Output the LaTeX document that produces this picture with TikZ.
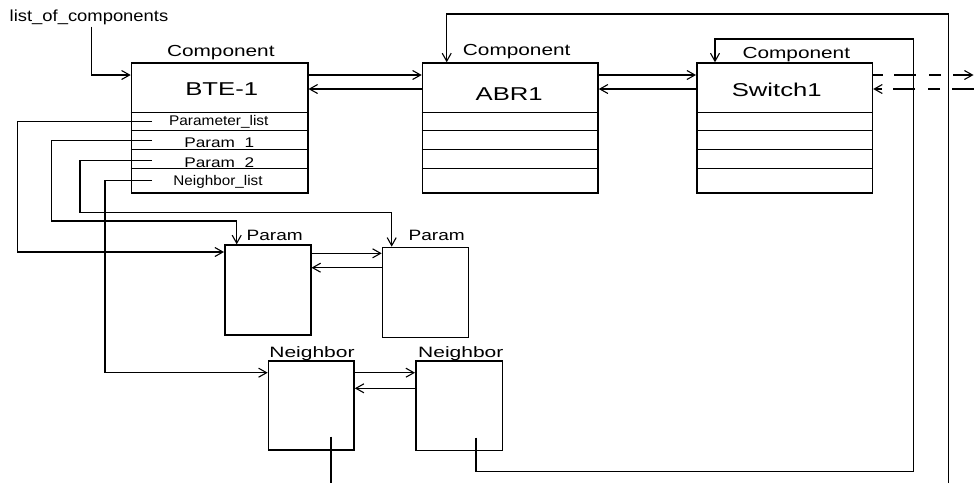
\documentclass[tikz,border=0pt]{standalone}
\usepackage{fontspec}
\setmainfont{Liberation Sans}
\usetikzlibrary{arrows.meta}
\newcommand\stxt[3]{\fontsize{#1}{#1}\selectfont\scalebox{#2}[1]{#3}}
\tikzset{
  box/.style={draw, line width=1.5pt, inner sep=0pt, anchor=north west},
  rowline/.style={line width=1.3pt},
  conn/.style={line width=1.25pt},
  arr/.style={conn, -{Straight Barb[length=8pt,width=9pt,line width=1.1pt]}},
  dashout/.style={arr, dash pattern=on 10pt off 11pt on 22pt off 13pt on 12pt off 12pt on 40pt},
  dashin/.style={arr, dash pattern=on 22pt off 12pt on 12pt off 13pt on 22pt off 11pt on 30pt},
  lbl/.style={anchor=base, inner sep=0pt}
}
\begin{document}
\begin{tikzpicture}[x=1pt,y=-1pt]
\useasboundingbox (0,0) rectangle (974,483);
% boxes
\node[box, minimum width=176.3pt, minimum height=129.7pt] (bte) at (130.7,62.3) {};
\node[box, minimum width=175.6pt, minimum height=129.7pt] (abr) at (421.7,62.3) {};
\node[box, minimum width=175.7pt, minimum height=129.7pt] (sw) at (696,62.3) {};
\node[box, minimum width=86pt, minimum height=90pt] (p1) at (224,244.3) {};
\node[box, minimum width=86pt, minimum height=90pt] (p2) at (381.7,246.7) {};
\node[box, minimum width=85.6pt, minimum height=89.3pt] (n1) at (267.7,360) {};
\node[box, minimum width=86.5pt, minimum height=89.5pt] (n2) at (415,360) {};
% row lines
\foreach \b in {bte,abr,sw}{
  \foreach \yy in {112.7,130.7,149.3,168.3}{
    \draw[rowline] (\b.west |- 0,\yy) -- (\b.east |- 0,\yy);
  }
}
% texts
\node[lbl] (tlist) at (89,21) {\stxt{16}{1.15}{list\_of\_components}};
\node[lbl] (cbte) at (220.8,56.3) {\stxt{16}{1.3}{Component}};
\node[lbl] (cabr) at (516.7,55.7) {\stxt{16}{1.3}{Component}};
\node[lbl] (csw) at (796.3,58.3) {\stxt{16}{1.3}{Component}};
\node[lbl] (tbte) at (221.7,95) {\stxt{18.6}{1.38}{BTE-1}};
\node[lbl] (tabr) at (509.2,100) {\stxt{18.6}{1.38}{ABR1}};
\node[lbl] (tsw) at (776.7,96) {\stxt{18.6}{1.38}{Switch1}};
\node[lbl] (r1) at (218.8,125) {\stxt{14}{1.1}{Parameter\_list}};
\node[lbl] (r2) at (219.2,147.7) {\stxt{14}{1.23}{Param\ \ 1}};
\node[lbl] (r3) at (219.2,167.3) {\stxt{14}{1.23}{Param\ \ 2}};
\node[lbl] (r4) at (218,185) {\stxt{14}{1.09}{Neighbor\_list}};
\node[lbl] (lp1) at (274.7,240.7) {\stxt{15}{1.27}{Param}};
\node[lbl] (lp2) at (436.7,240.7) {\stxt{15}{1.27}{Param}};
\node[lbl] (ln1) at (312,357.3) {\stxt{15}{1.4}{Neighbor}};
\node[lbl] (ln2) at (460.8,357.3) {\stxt{15}{1.4}{Neighbor}};
% free ends
\coordinate (lc) at (91.7,26.7);
\coordinate (s1) at (152,121.7);
\coordinate (s2) at (152,140.7);
\coordinate (s3) at (152,160.7);
\coordinate (s4) at (152,180.7);
\coordinate (n1tail) at (331,436.7);
\coordinate (n1out) at (331,483);
\coordinate (n2tail) at (476,437.7);
\coordinate (bot1) at (948.3,483);
\coordinate (rt1) at (973.5,75);
\coordinate (rt2) at (974,89);
% connectors
\draw[arr] (lc) |- (bte.west |- 0,75);
\draw[arr] (bte.east |- 0,75) -- (abr.west |- 0,75);
\draw[arr] (abr.west |- 0,89) -- (bte.east |- 0,89);
\draw[arr] (abr.east |- 0,75) -- (sw.west |- 0,75);
\draw[arr] (sw.west |- 0,89) -- (abr.east |- 0,89);
\draw[dashout] (sw.east |- 0,75) -- (rt1);
\draw[dashin] (rt2) -- (sw.east |- 0,89);
\draw[arr] (bot1) |- (446.7,14) -- (abr.north -| 446.7,0);
\draw[arr] (n2tail) |- (913.3,471.7) |- (715,39) -- (sw.north -| 715,0);
\draw[conn] (n1tail) -- (n1out);
\draw[arr] (s1) -- (17.3,121.7) |- (p1.west |- 0,252);
\draw[arr] (s2) -- (51.7,140.7) |- (236.7,221) -- (p1.north -| 236.7,0);
\draw[arr] (s3) -- (80,160.7) |- (391.7,212.7) -- (p2.north -| 391.7,0);
\draw[arr] (s4) -- (105,180.7) |- (n1.west |- 0,372.7);
\draw[arr] (p1.east |- 0,253.3) -- (p2.west |- 0,253.3);
\draw[arr] (p2.west |- 0,267.7) -- (p1.east |- 0,267.7);
\draw[arr] (n1.east |- 0,372.7) -- (n2.west |- 0,372.7);
\draw[arr] (n2.west |- 0,388.3) -- (n1.east |- 0,388.3);
\end{tikzpicture}
\end{document}
